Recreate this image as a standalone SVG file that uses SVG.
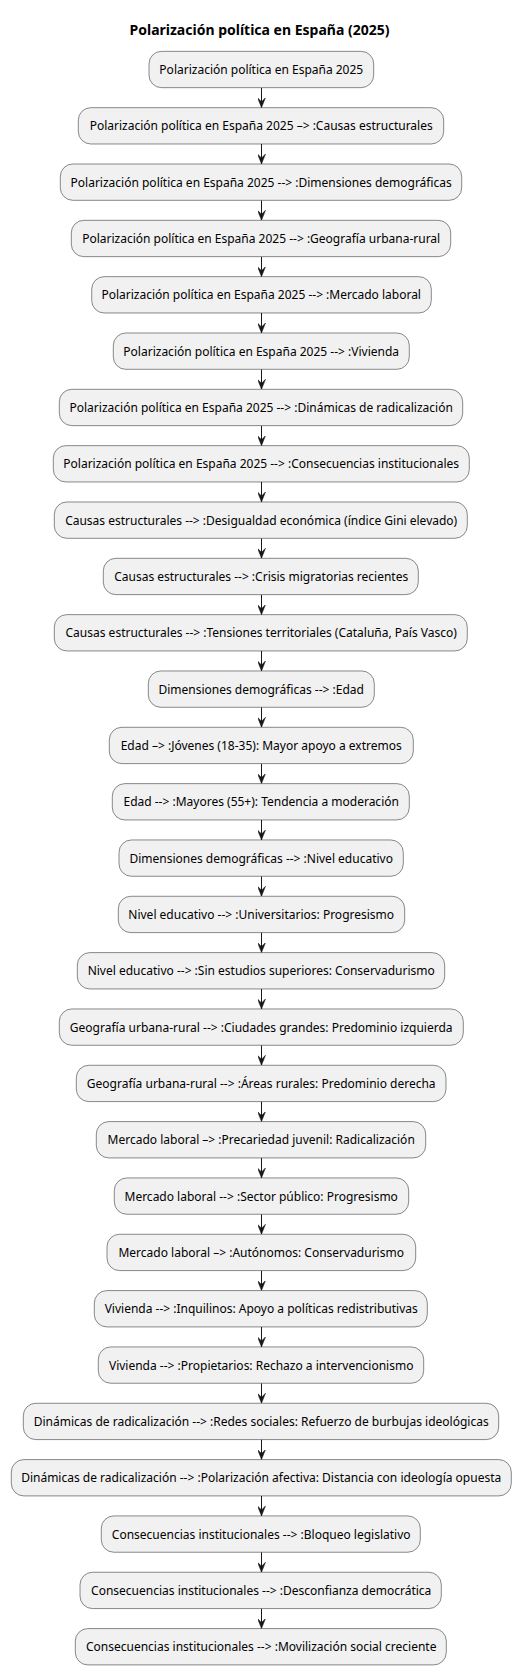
<svg xmlns="http://www.w3.org/2000/svg" width="521" height="1675" viewBox="0 0 521 1675">
<style>
.title{font-family:"Noto Sans","DejaVu Sans",sans-serif;font-size:14px;font-weight:bold;fill:#000;text-anchor:middle}
.node rect{fill:#F1F1F1;stroke:#181818;stroke-width:0.5}
.node text{font-family:"Noto Sans","DejaVu Sans",sans-serif;font-size:12px;fill:#000;text-anchor:middle}
.edge{stroke:#181818;stroke-width:1;fill:none;marker-end:url(#ah)}
</style>
<defs>
<marker id="ah" viewBox="0 -4 10 8" refX="10" refY="0" markerWidth="10" markerHeight="8" markerUnits="userSpaceOnUse" orient="auto">
<path d="M0,-4 L10,0 L0,4 L4,0 Z" fill="#181818" stroke="#181818" stroke-width="0.5"/>
</marker>
</defs>
<rect width="521" height="1675" fill="#FFFFFF"/>
<text class="title" x="259.5" y="35">Polarización política en España (2025)</text>
<g id="connectors">
<path class="edge" d="M261.5,87.66 V107.66"/>
<path class="edge" d="M261.5,143.99 V163.99"/>
<path class="edge" d="M261.5,200.32 V220.32"/>
<path class="edge" d="M261.5,256.65 V276.65"/>
<path class="edge" d="M261.5,312.98 V332.98"/>
<path class="edge" d="M261.5,369.31 V389.31"/>
<path class="edge" d="M261.5,425.64 V445.64"/>
<path class="edge" d="M261.5,481.97 V501.97"/>
<path class="edge" d="M261.5,538.30 V558.30"/>
<path class="edge" d="M261.5,594.63 V614.63"/>
<path class="edge" d="M261.5,650.96 V670.96"/>
<path class="edge" d="M261.5,707.29 V727.29"/>
<path class="edge" d="M261.5,763.62 V783.62"/>
<path class="edge" d="M261.5,819.95 V839.95"/>
<path class="edge" d="M261.5,876.28 V896.28"/>
<path class="edge" d="M261.5,932.61 V952.61"/>
<path class="edge" d="M261.5,988.94 V1008.94"/>
<path class="edge" d="M261.5,1045.27 V1065.27"/>
<path class="edge" d="M261.5,1101.60 V1121.60"/>
<path class="edge" d="M261.5,1157.93 V1177.93"/>
<path class="edge" d="M261.5,1214.26 V1234.26"/>
<path class="edge" d="M261.5,1270.59 V1290.59"/>
<path class="edge" d="M261.5,1326.92 V1346.92"/>
<path class="edge" d="M261.5,1383.25 V1403.25"/>
<path class="edge" d="M261.5,1439.58 V1459.58"/>
<path class="edge" d="M261.5,1495.91 V1515.91"/>
<path class="edge" d="M261.5,1552.24 V1572.24"/>
<path class="edge" d="M261.5,1608.57 V1628.57"/>
</g>
<g id="n1" class="node" transform="translate(0,51.33)"><rect x="149" y="0" width="224.7" height="36.33" rx="12.5"/><text x="261.3" y="22.7">Polarización política en España 2025</text></g>
<g id="n2" class="node" transform="translate(0,107.66)"><rect x="78.3" y="0" width="365.4" height="36.33" rx="12.5"/><text x="261.2" y="22.7">Polarización política en España 2025 –&gt; :Causas estructurales</text></g>
<g id="n3" class="node" transform="translate(0,163.99)"><rect x="60.3" y="0" width="401.4" height="36.33" rx="12.5"/><text x="261.2" y="22.7">Polarización política en España 2025 --&gt; :Dimensiones demográficas</text></g>
<g id="n4" class="node" transform="translate(0,220.32)"><rect x="71.3" y="0" width="379.4" height="36.33" rx="12.5"/><text x="261.2" y="22.7">Polarización política en España 2025 --&gt; :Geografía urbana-rural</text></g>
<g id="n5" class="node" transform="translate(0,276.65)"><rect x="91.7" y="0" width="339.6" height="36.33" rx="12.5"/><text x="261.2" y="22.7">Polarización política en España 2025 --&gt; :Mercado laboral</text></g>
<g id="n6" class="node" transform="translate(0,332.98)"><rect x="113.3" y="0" width="296" height="36.33" rx="12.5"/><text x="261.2" y="22.7">Polarización política en España 2025 --&gt; :Vivienda</text></g>
<g id="n7" class="node" transform="translate(0,389.31)"><rect x="59.3" y="0" width="403.4" height="36.33" rx="12.5"/><text x="261.2" y="22.7">Polarización política en España 2025 --&gt; :Dinámicas de radicalización</text></g>
<g id="n8" class="node" transform="translate(0,445.64)"><rect x="53.3" y="0" width="416" height="36.33" rx="12.5"/><text x="261.2" y="22.7">Polarización política en España 2025 --&gt; :Consecuencias institucionales</text></g>
<g id="n9" class="node" transform="translate(0,501.97)"><rect x="54.3" y="0" width="413" height="36.33" rx="12.5"/><text x="261.2" y="22.7">Causas estructurales --&gt; :Desigualdad económica (índice Gini elevado)</text></g>
<g id="n10" class="node" transform="translate(0,558.30)"><rect x="103.3" y="0" width="315" height="36.33" rx="12.5"/><text x="261.2" y="22.7">Causas estructurales --&gt; :Crisis migratorias recientes</text></g>
<g id="n11" class="node" transform="translate(0,614.63)"><rect x="54.3" y="0" width="413" height="36.33" rx="12.5"/><text x="261.2" y="22.7">Causas estructurales --&gt; :Tensiones territoriales (Cataluña, País Vasco)</text></g>
<g id="n12" class="node" transform="translate(0,670.96)"><rect x="148.3" y="0" width="226" height="36.33" rx="12.5"/><text x="261.2" y="22.7">Dimensiones demográficas --&gt; :Edad</text></g>
<g id="n13" class="node" transform="translate(0,727.29)"><rect x="109.3" y="0" width="304" height="36.33" rx="12.5"/><text x="261.2" y="22.7">Edad –&gt; :Jóvenes (18-35): Mayor apoyo a extremos</text></g>
<g id="n14" class="node" transform="translate(0,783.62)"><rect x="112.3" y="0" width="297" height="36.33" rx="12.5"/><text x="261.2" y="22.7">Edad --&gt; :Mayores (55+): Tendencia a moderación</text></g>
<g id="n15" class="node" transform="translate(0,839.95)"><rect x="119" y="0" width="284.3" height="36.33" rx="12.5"/><text x="261.2" y="22.7">Dimensiones demográficas --&gt; :Nivel educativo</text></g>
<g id="n16" class="node" transform="translate(0,896.28)"><rect x="118.3" y="0" width="286.4" height="36.33" rx="12.5"/><text x="261.2" y="22.7">Nivel educativo --&gt; :Universitarios: Progresismo</text></g>
<g id="n17" class="node" transform="translate(0,952.61)"><rect x="77.3" y="0" width="367.4" height="36.33" rx="12.5"/><text x="261.2" y="22.7">Nivel educativo --&gt; :Sin estudios superiores: Conservadurismo</text></g>
<g id="n18" class="node" transform="translate(0,1008.94)"><rect x="59.3" y="0" width="404" height="36.33" rx="12.5"/><text x="261.2" y="22.7">Geografía urbana-rural --&gt; :Ciudades grandes: Predominio izquierda</text></g>
<g id="n19" class="node" transform="translate(0,1065.27)"><rect x="76.3" y="0" width="369.7" height="36.33" rx="12.5"/><text x="261.2" y="22.7">Geografía urbana-rural --&gt; :Áreas rurales: Predominio derecha</text></g>
<g id="n20" class="node" transform="translate(0,1121.60)"><rect x="96.3" y="0" width="329.4" height="36.33" rx="12.5"/><text x="261.2" y="22.7">Mercado laboral –&gt; :Precariedad juvenil: Radicalización</text></g>
<g id="n21" class="node" transform="translate(0,1177.93)"><rect x="114.3" y="0" width="294.4" height="36.33" rx="12.5"/><text x="261.2" y="22.7">Mercado laboral --&gt; :Sector público: Progresismo</text></g>
<g id="n22" class="node" transform="translate(0,1234.26)"><rect x="107" y="0" width="308.7" height="36.33" rx="12.5"/><text x="261.2" y="22.7">Mercado laboral –&gt; :Autónomos: Conservadurismo</text></g>
<g id="n23" class="node" transform="translate(0,1290.59)"><rect x="94.3" y="0" width="333" height="36.33" rx="12.5"/><text x="261.2" y="22.7">Vivienda --&gt; :Inquilinos: Apoyo a políticas redistributivas</text></g>
<g id="n24" class="node" transform="translate(0,1346.92)"><rect x="98.3" y="0" width="325.4" height="36.33" rx="12.5"/><text x="261.2" y="22.7">Vivienda --&gt; :Propietarios: Rechazo a intervencionismo</text></g>
<g id="n25" class="node" transform="translate(0,1403.25)"><rect x="23.3" y="0" width="475.4" height="36.33" rx="12.5"/><text x="261.2" y="22.7">Dinámicas de radicalización --&gt; :Redes sociales: Refuerzo de burbujas ideológicas</text></g>
<g id="n26" class="node" transform="translate(0,1459.58)"><rect x="11.3" y="0" width="500" height="36.33" rx="12.5"/><text x="261.2" y="22.7">Dinámicas de radicalización --&gt; :Polarización afectiva: Distancia con ideología opuesta</text></g>
<g id="n27" class="node" transform="translate(0,1515.91)"><rect x="101.3" y="0" width="319" height="36.33" rx="12.5"/><text x="261.2" y="22.7">Consecuencias institucionales --&gt; :Bloqueo legislativo</text></g>
<g id="n28" class="node" transform="translate(0,1572.24)"><rect x="80" y="0" width="361.3" height="36.33" rx="12.5"/><text x="261.2" y="22.7">Consecuencias institucionales --&gt; :Desconfianza democrática</text></g>
<g id="n29" class="node" transform="translate(0,1628.57)"><rect x="75.3" y="0" width="371" height="36.33" rx="12.5"/><text x="261.2" y="22.7">Consecuencias institucionales --&gt; :Movilización social creciente</text></g>
</svg>
